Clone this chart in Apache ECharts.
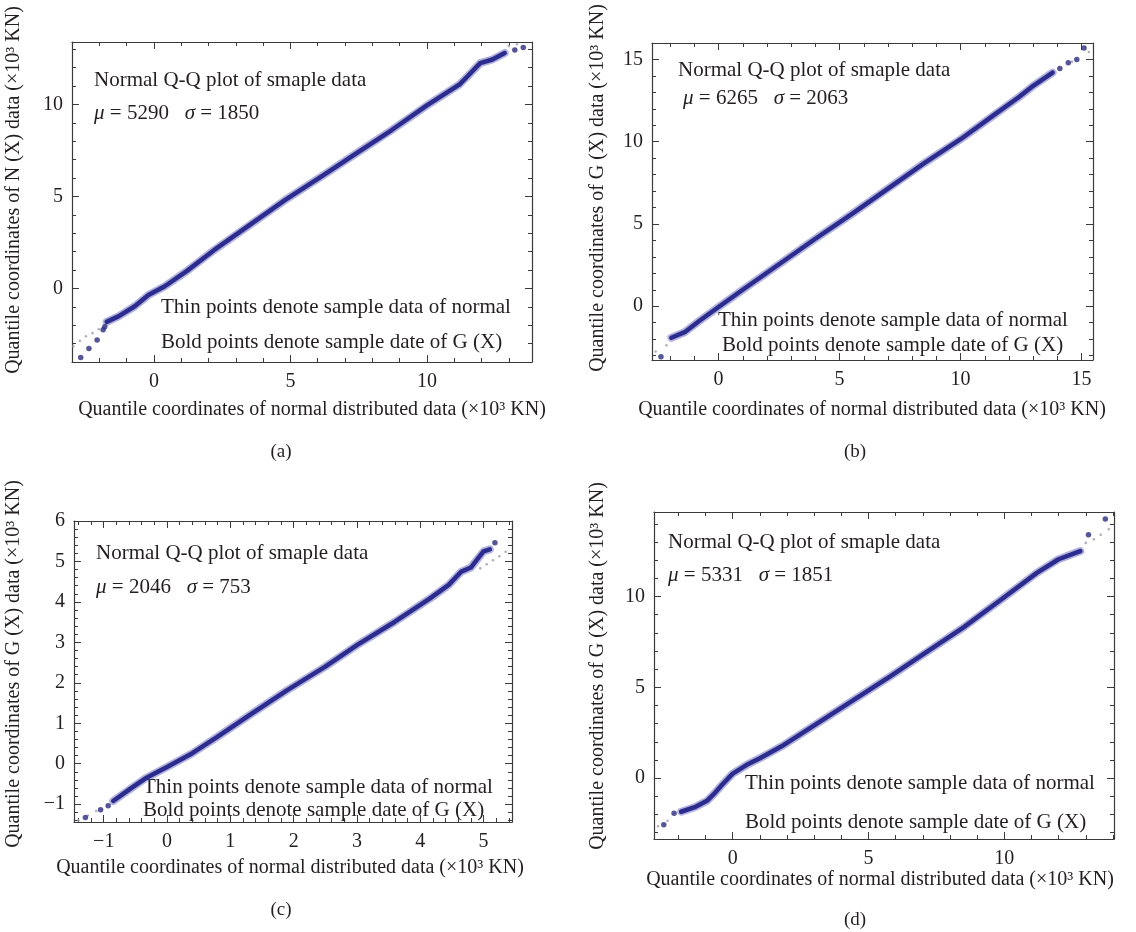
<!DOCTYPE html>
<html>
<head>
    <meta charset="utf-8">
    <!-- ECharts from CDN -->
    <script src="https://cdn.jsdelivr.net/npm/echarts@6/dist/echarts.min.js"></script>
    <style>
        body{margin:0;background:#fff;}
        #main{width:1136px;height:932px;}
    </style>
</head>
<body>
<div id="main"></div>
<script type="text/javascript">

    // ---- data (x = normal quantile, y = sample quantile, x10^3 KN) ----
    // (a)
    var aBand = [[-1.73,-1.82],[-1.3,-1.52],[-0.7,-0.97],[-0.2,-0.36],[0.4,0.12],[1.2,0.94],[2.2,2.08],[3.5,3.44],
        [4.8,4.8],[6.1,6.05],[7.4,7.33],[8.7,8.6],[10.0,9.95],[10.7,10.62],[11.2,11.1],[11.5,11.55],[11.95,12.25],
        [12.4,12.45],[12.85,12.8]];
    var aBold = [[-2.68,-3.75],[-2.38,-3.26],[-2.08,-2.81],[-1.86,-2.25],[-1.8,-2.08],[13.22,12.97],[13.53,13.1]];
    var aThin = [[-2.95,-3.15],[-2.71,-2.85],[-2.49,-2.6],[-2.25,-2.43],[-2.02,-2.22],[13.0,13.18],[13.3,13.28]];
    // (b)
    var bBand = [[-1.95,-1.92],[-1.4,-1.58],[-0.8,-0.9],[0,-0.05],[1.0,1.0],[2.5,2.55],[4.0,4.1],[5.5,5.6],
        [7.0,7.15],[8.5,8.7],[10.0,10.15],[11.5,11.75],[12.4,12.7],[13.0,13.4],[13.8,14.2]];
    var bBold = [[-2.38,-3.08],[14.1,14.45],[14.45,14.8],[14.8,15.0],[15.1,15.7]];
    var bThin = [[-2.6,-2.75],[-2.15,-2.37],[14.6,14.85],[15.3,15.45]];
    // (c)
    var cBand = [[-0.85,-0.92],[-0.6,-0.64],[-0.34,-0.36],[0.0,-0.08],[0.4,0.26],[0.8,0.67],[1.35,1.25],[1.9,1.82],
        [2.5,2.4],[3.0,2.93],[3.6,3.51],[4.15,4.08],[4.45,4.42],[4.65,4.75],[4.8,4.85],[4.9,5.05],[5.0,5.25],[5.1,5.3]];
    var cBold = [[-1.29,-1.33],[-1.05,-1.14],[-0.93,-1.04],[5.18,5.46]];
    var cThin = [[-1.4,-1.4],[-1.25,-1.28],[-1.12,-1.17],[4.95,4.83],[5.05,4.93],[5.15,5.03],[5.25,5.13],[5.35,5.24]];
    // (d)
    var dBand = [[-1.9,-1.85],[-1.4,-1.6],[-0.95,-1.25],[-0.7,-0.88],[-0.4,-0.38],[0.0,0.25],[0.5,0.72],[1.0,1.1],
        [1.8,1.75],[3.1,3.0],[4.5,4.35],[5.8,5.6],[7.2,7.0],[8.5,8.3],[9.9,9.85],[11.2,11.3],[12.0,12.05],[12.8,12.5]];
    var dBold = [[-2.54,-2.57],[-2.16,-1.93],[13.1,13.4],[13.72,14.26]];
    var dThin = [[-2.75,-2.65],[-2.4,-2.35],[13.0,12.95],[13.3,13.15],[13.55,13.4],[13.85,13.7]];

    // axis limits [min, max, label step, minor step]
    var aX = [-3, 13.85, 5, 1],  aY = [-4, 13.4, 5, 1];
    var bX = [-2.75, 15.47, 5, 1], bY = [-3.27, 16, 5, 1];
    var cX = [-1.47, 5.45, 1, 0.2], cY = [-1.44, 6.0, 1, 0.2];
    var dX = [-2.9, 14.04, 5, 1], dY = [-3.35, 14.65, 5, 1];

    var muList = [5290, 6265, 2046, 5331];
    var sigmaList = [1850, 2063, 753, 1851];
    var yTitles = ['Quantile coordinates of N (X) data (×10³ KN)', 'Quantile coordinates of G (X) data (×10³ KN)',
        'Quantile coordinates of G (X) data (×10³ KN)', 'Quantile coordinates of G (X) data (×10³ KN)'];
    var xTitle = 'Quantile coordinates of normal distributed data (×10³ KN)';
    var captions = ['(a)', '(b)', '(c)', '(d)'];
    var note1 = 'Normal Q-Q plot of smaple data';
    var note2 = 'Thin points denote sample data of normal';
    var note3 = 'Bold points denote sample date of G (X)';

    var FONT = "'Liberation Serif', 'DejaVu Serif', serif";
    var INK = '#231f20';

    // layout of each panel (pixels)
    var panels = [
        {grid:{left:72, top:42, width:460, height:320}, x:aX, y:aY, band:aBand, bold:aBold, thin:aThin,
            yt:[14,190], xt:[312,410], cap:[281,452], n1:[94,80], n2:[94,113], n3:[161,307], n4:[161,342]},
        {grid:{left:652, top:43, width:441, height:317}, x:bX, y:bY, band:bBand, bold:bBold, thin:bThin,
            yt:[598,188], xt:[872,410], cap:[855,452], n1:[678,70], n2:[683,98], n3:[718,320], n4:[722,345]},
        {grid:{left:74, top:521, width:438, height:301}, x:cX, y:cY, band:cBand, bold:cBold, thin:cThin,
            yt:[14,664], xt:[290,868], cap:[281,910], n1:[96,553], n2:[96,587], n3:[143,787], n4:[143,810]},
        {grid:{left:654, top:512, width:460, height:327}, x:dX, y:dY, band:dBand, bold:dBold, thin:dThin,
            yt:[598,666], xt:[880,880], cap:[855,920], n1:[668,542], n2:[668,575], n3:[745,783], n4:[745,822]}
    ];

    function labelFmt(step){
        return function(v){
            var r = Math.round(v/step)*step;
            if(Math.abs(v-r) > 1e-6) return '';
            return r < 0 ? '\u2212' + (-r) : String(r);
        };
    }

    // two axes per side: one for the long (labelled) ticks, one for the short ticks
    function makeAxes(gi, lim, isX){
        var sides = isX ? ['bottom','top'] : ['left','right'];
        var list = [];
        sides.forEach(function(side, k){
            list.push({
                type:'value', gridIndex:gi, position:side, min:lim[0], max:lim[1],
                minInterval:lim[2], maxInterval:lim[2], splitNumber:4,
                axisLine:{show:true, onZero:false, lineStyle:{color:'#3a3a3a', width:1.2}},
                axisTick:{show:true, inside:true, length:7, lineStyle:{color:'#3a3a3a', width:1}},
                axisLabel:{show:k===0, margin:isX?10:9, color:INK, fontFamily:FONT, fontSize:20, formatter:labelFmt(lim[2])},
                splitLine:{show:false}
            });
            list.push({
                type:'value', gridIndex:gi, position:side, min:lim[0], max:lim[1],
                minInterval:lim[3], maxInterval:lim[3], splitNumber:20,
                axisLine:{show:false, onZero:false},
                axisTick:{show:true, inside:true, length:4, lineStyle:{color:'#3a3a3a', width:1}},
                axisLabel:{show:false},
                splitLine:{show:false}
            });
        });
        return list;
    }

    function txt(pos, s, size, align, rot){
        return {
            type:'text', x:pos[0], y:pos[1], rotation:rot||0, silent:true,
            style:{
                text:s, fill:INK, fontFamily:FONT, fontSize:size,
                align:align, textAlign:align, verticalAlign:'middle', textVerticalAlign:'middle',
                rich:{i:{fontStyle:'italic', fontFamily:FONT, fontSize:size, fill:INK}}
            }
        };
    }

    var grids = [], xAxes = [], yAxes = [], series = [], texts = [];
    panels.forEach(function(p, i){
        grids.push(p.grid);
        xAxes = xAxes.concat(makeAxes(i, p.x, true));
        yAxes = yAxes.concat(makeAxes(i, p.y, false));
        var xi = i*4, yi = i*4;
        // faint halo of the bold band
        series.push({type:'line', xAxisIndex:xi, yAxisIndex:yi, data:p.band, showSymbol:false, symbol:'none',
            clip:false, lineStyle:{width:8, color:'rgba(84,84,182,0.45)', cap:'round', join:'round'}, z:2});
        // core of the bold band
        series.push({type:'line', xAxisIndex:xi, yAxisIndex:yi, data:p.band, showSymbol:false, symbol:'none',
            clip:false, lineStyle:{width:4.5, color:'#2c2c8e', cap:'round', join:'round'}, z:3});
        // bold sample points at the tails
        series.push({type:'scatter', xAxisIndex:xi, yAxisIndex:yi, data:p.bold, symbolSize:5.5, clip:false,
            itemStyle:{color:'#2a2a7e'}, z:4});
        // thin normal points at the tails
        series.push({type:'scatter', xAxisIndex:xi, yAxisIndex:yi, data:p.thin, symbolSize:2.6, clip:false,
            itemStyle:{color:'#9c9cb0'}, z:1});

        texts.push(txt(p.yt, yTitles[i], 20, 'center', Math.PI/2));
        texts.push(txt(p.xt, xTitle, 20, 'center'));
        texts.push(txt(p.cap, captions[i], 19, 'center'));
        texts.push(txt(p.n1, note1, 21, 'left'));
        texts.push(txt(p.n2, '{i|μ} = ' + muList[i] + '   {i|σ} = ' + sigmaList[i], 21, 'left'));
        texts.push(txt(p.n3, note2, 21, 'left'));
        texts.push(txt(p.n4, note3, 21, 'left'));
    });

    var myChart = echarts.init(document.getElementById('main'));
    var option = {
        animation:false,
        backgroundColor:'#ffffff',
        grid:grids,
        xAxis:xAxes,
        yAxis:yAxes,
        series:series,
        graphic:{elements:texts}
    };
    myChart.setOption(option);

</script>
</html>
